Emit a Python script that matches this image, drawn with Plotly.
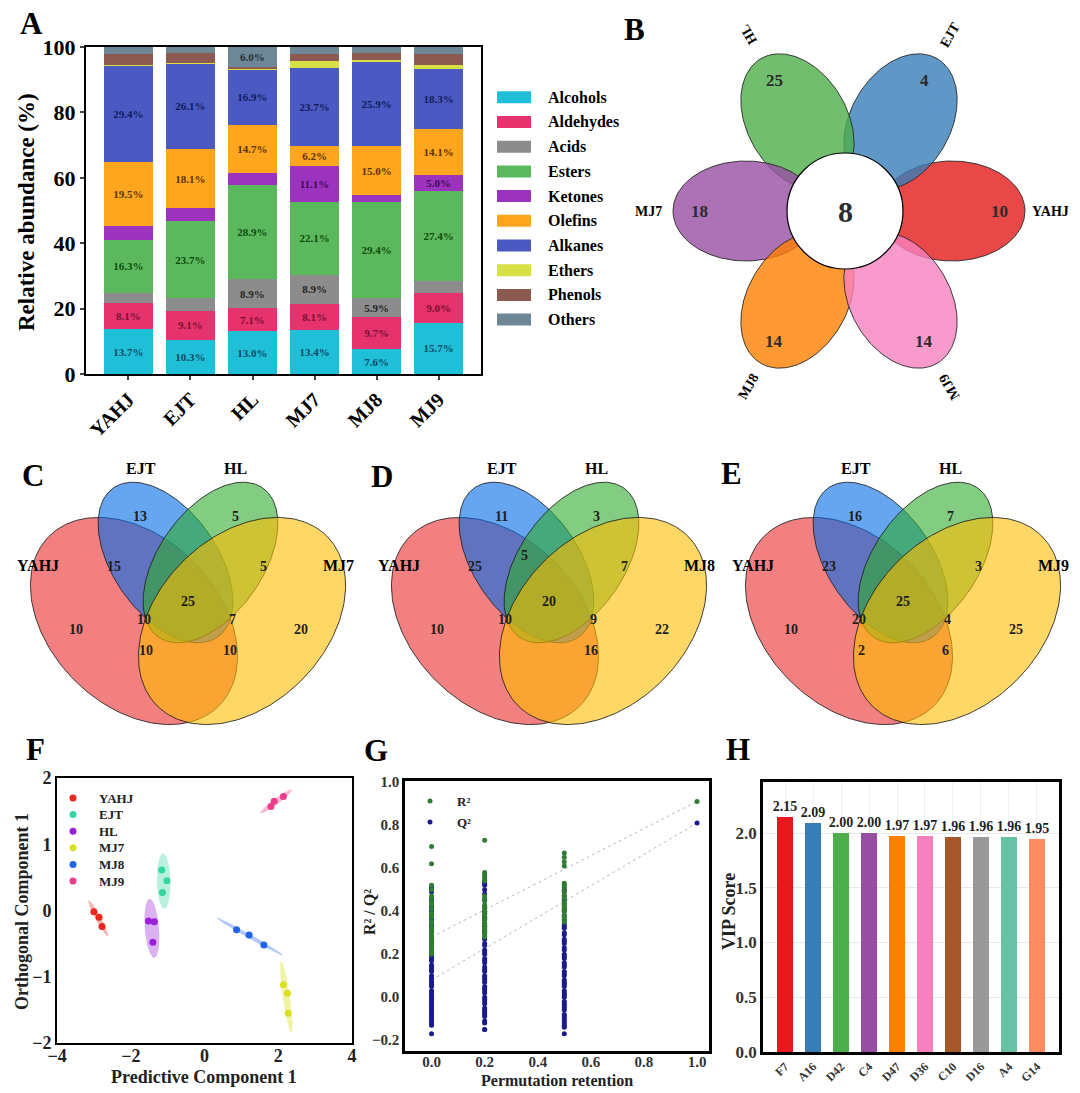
import numpy as np
import plotly.graph_objects as go

W, H = 1080, 1093
FONT = "Liberation Serif"

# ---------------- DATA ----------------
# Panel A: relative abundance (%)
samples = ["YAHJ", "EJT", "HL", "MJ7", "MJ8", "MJ9"]
classes = ["Alcohols", "Aldehydes", "Acids", "Esters", "Ketones",
           "Olefins", "Alkanes", "Ethers", "Phenols", "Others"]
alcohols = [13.7, 10.3, 13.0, 13.4, 7.6, 15.7]
aldehydes = [8.1, 9.1, 7.1, 8.1, 9.7, 9.0]
acids = [3.0, 3.7, 8.9, 8.9, 5.9, 3.8]
esters = [16.3, 23.7, 28.9, 22.1, 29.4, 27.4]
ketones = [4.3, 3.9, 3.7, 11.1, 2.0, 5.0]
olefins = [19.5, 18.1, 14.7, 6.2, 15.0, 14.1]
alkanes = [29.4, 26.1, 16.9, 23.7, 25.9, 18.3]
ethers = [0.3, 0.3, 0.3, 2.2, 0.5, 1.3]
phenols = [3.2, 3.0, 0.5, 2.3, 2.2, 3.2]
others = [2.2, 1.8, 6.0, 2.0, 1.8, 2.2]

# Panel B: flower diagram
flower_sets = ["YAHJ", "EJT", "HL", "MJ7", "MJ8", "MJ9"]
flower_unique = [10, 4, 25, 18, 14, 14]
flower_core = 8

# Panels C-E: 4-set Venn region counts
venn_sets_C = ["YAHJ", "EJT", "HL", "MJ7"]
venn_sets_D = ["YAHJ", "EJT", "HL", "MJ8"]
venn_sets_E = ["YAHJ", "EJT", "HL", "MJ9"]
venn_C = [13, 5, 15, 5, 25, 10, 7, 10, 20, 10, 10, None]
venn_D = [11, 3, 25, 7, 20, 10, 9, 10, 22, None, 16, 5]
venn_E = [16, 7, 23, 3, 25, 20, 4, 10, 25, 2, 6, None]

# Panel F: OPLS-DA scores
pca_groups = ["YAHJ", "EJT", "HL", "MJ7", "MJ8", "MJ9"]
pc1_yahj = [-3.00, -2.86, -2.78]; oc1_yahj = [-0.02, -0.10, -0.24]
pc1_ejt = [-1.16, -1.02, -1.14];  oc1_ejt = [0.61, 0.45, 0.27]
pc1_hl = [-1.52, -1.36, -1.40];   oc1_hl = [-0.16, -0.17, -0.48]
pc1_mj7 = [2.14, 2.25, 2.27];     oc1_mj7 = [-1.12, -1.25, -1.55]
pc1_mj8 = [0.87, 1.21, 1.61];     oc1_mj8 = [-0.29, -0.37, -0.52]
pc1_mj9 = [1.80, 1.89, 2.14];     oc1_mj9 = [1.57, 1.65, 1.72]

# Panel G: permutation test
r2_at_0 = [0.70, 0.62, 0.52, 0.50, 0.47, 0.46, 0.44, 0.43, 0.41, 0.39, 0.38, 0.37, 0.35,
           0.34, 0.32, 0.31, 0.30, 0.29, 0.28, 0.27, 0.26, 0.25, 0.24, 0.23, 0.22, 0.21, 0.20]
q2_at_0 = [0.51, 0.50, 0.49, 0.45, 0.42, 0.41, 0.40, 0.38, 0.36, 0.34, 0.33, 0.31, 0.29,
           0.27, 0.26, 0.25, 0.24, 0.22, 0.21, 0.19, 0.18, 0.17, 0.15, 0.14, 0.13, 0.12,
           0.10, 0.09, 0.08, 0.07, 0.06, 0.05, 0.03, 0.02, 0.01, 0.00, -0.01, -0.02, -0.03,
           -0.04, -0.05, -0.06, -0.07, -0.08, -0.09, -0.10, -0.11, -0.12, -0.13, -0.17]
r2_at_02 = [0.73, 0.58, 0.57, 0.56, 0.55, 0.54, 0.47, 0.46, 0.45, 0.43, 0.42, 0.41, 0.40,
            0.39, 0.38, 0.37, 0.36, 0.35, 0.34, 0.33, 0.32, 0.31, 0.30, 0.29, 0.28]
q2_at_02 = [0.54, 0.53, 0.52, 0.50, 0.48, 0.45, 0.42, 0.40, 0.39, 0.37, 0.36, 0.34, 0.33,
            0.31, 0.30, 0.28, 0.27, 0.25, 0.24, 0.22, 0.21, 0.20, 0.18, 0.17, 0.16, 0.14,
            0.13, 0.12, 0.10, 0.09, 0.08, 0.07, 0.05, 0.04, 0.03, 0.02, 0.00, -0.01, -0.02,
            -0.03, -0.05, -0.06, -0.07, -0.08, -0.09, -0.11, -0.12, -0.15, -0.15]
r2_at_05 = [0.67, 0.65, 0.63, 0.61, 0.53, 0.52, 0.51, 0.49, 0.47, 0.46, 0.44, 0.43, 0.42,
            0.41, 0.40, 0.38, 0.37, 0.36, 0.35]
q2_at_05 = [0.50, 0.49, 0.47, 0.45, 0.43, 0.41, 0.40, 0.38, 0.36, 0.34, 0.33, 0.32, 0.30,
            0.29, 0.27, 0.26, 0.25, 0.23, 0.22, 0.20, 0.19, 0.18, 0.16, 0.15, 0.14, 0.12,
            0.11, 0.10, 0.08, 0.07, 0.06, 0.05, 0.03, 0.02, 0.01, 0.00, -0.02, -0.03, -0.04,
            -0.05, -0.06, -0.08, -0.09, -0.10, -0.11, -0.12, -0.13, -0.14, -0.17]
r2_at_1 = [0.91]
q2_at_1 = [0.81]
fit_x = [0.0, 1.0]
r2_fit = [0.28, 0.91]
q2_fit = [0.08, 0.81]

# Panel H: VIP scores
vip_features = ["F7", "A16", "D42", "C4", "D47", "D36", "C10", "D16", "A4", "G14"]
vip_scores = [2.15, 2.09, 2.00, 2.00, 1.97, 1.97, 1.96, 1.96, 1.96, 1.95]

# ---------------- STYLES ----------------
A_COLORS = ["#1fbfd8", "#e6336e", "#8c8c8c", "#5cb85c", "#9c33be",
            "#ffa51e", "#4b5ac3", "#d7e146", "#8c5a50", "#6e8796"]
A_TEXT = ["#0b4a66", "#7a0f2e", "#222222", "#0d4d0d", "#3d0f52",
          "#5a3300", "#101a5a", "#333333", "#333333", "#1f2f3a"]
FLOWER_COLORS = ["rgba(228,26,28,0.8)", "rgba(55,126,184,0.8)", "rgba(77,175,74,0.8)",
                 "rgba(152,78,163,0.8)", "rgba(255,127,0,0.8)", "rgba(247,129,191,0.8)"]
VENN_COLORS = ["rgba(233,43,43,0.6)", "rgba(0,106,231,0.6)",
               "rgba(47,172,47,0.6)", "rgba(255,188,0,0.6)"]
F_COLORS = ["#e8281e", "#33d69f", "#9b1fd6", "#d9e021", "#1f63e6", "#ec3c8c"]
F_FILL = ["rgba(232,40,30,0.35)", "rgba(51,214,159,0.35)", "rgba(155,31,214,0.35)",
          "rgba(217,224,33,0.4)", "rgba(31,99,230,0.35)", "rgba(236,60,140,0.35)"]
H_COLORS = ["#e41a1c", "#377eb8", "#4daf4a", "#984ea3", "#ff7f00",
            "#f781bf", "#a65628", "#999999", "#66c2a5", "#fc8d62"]
R2_COLOR = "#2f7d32"
Q2_COLOR = "#1a1a8c"


def bfont(size, color="black"):
    return dict(family=FONT, size=size, color=color, weight="bold")


def dom_x(p0, p1):
    return [p0 / W, p1 / W]


def dom_y(top, bottom):
    return [1 - bottom / H, 1 - top / H]


annotations = []
shapes = []


def txt(x, y, s, size, color="black", angle=0, xanchor="center", yanchor="middle"):
    annotations.append(dict(x=x, y=y, xref="x", yref="y", text=s, showarrow=False,
                            font=bfont(size, color), textangle=angle,
                            xanchor=xanchor, yanchor=yanchor))


def ellipse_pts(cx, cy, a, b, ang_deg, n=240):
    t = np.linspace(0, 2 * np.pi, n)
    ph = np.deg2rad(ang_deg)
    x = cx + a * np.cos(t) * np.cos(ph) - b * np.sin(t) * np.sin(ph)
    y = cy + a * np.cos(t) * np.sin(ph) + b * np.sin(t) * np.cos(ph)
    return x, y


def conf_ellipse(xs, ys, k=2.45, n=120):
    xs, ys = np.asarray(xs, float), np.asarray(ys, float)
    cov = np.cov(xs, ys)
    vals, vecs = np.linalg.eigh(cov)
    vals = np.clip(vals, 1e-5, None)
    t = np.linspace(0, 2 * np.pi, n)
    circ = np.stack([np.cos(t), np.sin(t)])
    pts = vecs @ (np.sqrt(vals)[:, None] * k * circ)
    return xs.mean() + pts[0], ys.mean() + pts[1]


fig = go.Figure()

# ---------------- Panel B: flower ----------------
fcx, fcy = 849, 211
pet_d, pet_a, pet_b = 103, 73, 50
for i, (name, cnt) in enumerate(zip(flower_sets, flower_unique)):
    th = np.deg2rad(60 * i)
    cx = fcx + pet_d * np.cos(th)
    cy = fcy - pet_d * np.sin(th)
    ex, ey = ellipse_pts(cx, cy, pet_a, pet_b, -60 * i)
    fig.add_trace(go.Scatter(x=ex, y=ey, mode="lines", fill="toself",
                             fillcolor=FLOWER_COLORS[i],
                             line=dict(color="rgba(40,40,40,0.9)", width=1),
                             hoverinfo="skip", showlegend=False, xaxis="x", yaxis="y"))
for i, (name, cnt) in enumerate(zip(flower_sets, flower_unique)):
    th = np.deg2rad(60 * i)
    txt(fcx + 150 * np.cos(th), fcy - 151 * np.sin(th), str(cnt), 17, "#2b2b2b")
    ang = (60 * i) % 180
    txt(fcx + 201 * np.cos(th), fcy - 203 * np.sin(th), name, 14, "black", angle=-ang)
shapes.append(dict(type="circle", xref="x", yref="y", x0=845 - 58, x1=845 + 58,
                   y0=fcy - 58, y1=fcy + 58, fillcolor="white",
                   line=dict(color="black", width=1.2), layer="above"))
txt(845, fcy, str(flower_core), 30, "#2b2b2b")

# ---------------- Panels C-E: Venn ----------------
venn_geom = [(-54, 621, 120, 84, 45), (-22.5, 562.5, 91, 52, 55),
             (22.5, 562.5, 91, 52, -55), (54, 621, 120, 84, -45)]
region_dx = [-48, 47, -74, 75, 0, -44, 44, -112, 113, -42, 42, -25]
region_y = [516, 516, 566, 566, 601, 619, 619, 629, 629, 650, 650, 555]
name_pos = [(-150, 565), (-47, 468), (47, 468), (150, 565)]
for axc, sets, counts in [(188, venn_sets_C, venn_C), (549, venn_sets_D, venn_D),
                          (903, venn_sets_E, venn_E)]:
    for (dx, cy, a, b, ph), col in zip(venn_geom, VENN_COLORS):
        ex, ey = ellipse_pts(axc + dx, cy, a, b, ph)
        fig.add_trace(go.Scatter(x=ex, y=ey, mode="lines", fill="toself", fillcolor=col,
                                 line=dict(color="rgba(30,30,30,0.85)", width=1),
                                 hoverinfo="skip", showlegend=False, xaxis="x", yaxis="y"))
    for v, dx, yy in zip(counts, region_dx, region_y):
        if v is not None:
            txt(axc + dx, yy, str(v), 14, "#1e1e1e")
    for s, (dx, yy) in zip(sets, name_pos):
        txt(axc + dx, yy, s, 16, "black")

# ---------------- Panel A: stacked bars ----------------
series = [alcohols, aldehydes, acids, esters, ketones, olefins, alkanes, ethers, phenols, others]
for name, vals, col, tcol in zip(classes, series, A_COLORS, A_TEXT):
    fig.add_trace(go.Bar(x=samples, y=vals, name=name, width=0.79,
                         marker=dict(color=col, line=dict(width=0)),
                         text=[f"{v:.1f}%" if v >= 5 else "" for v in vals],
                         textposition="inside", insidetextanchor="middle", textangle=0,
                         constraintext="none",
                         textfont=bfont(11, tcol), hoverinfo="skip",
                         showlegend=False, xaxis="x2", yaxis="y2"))
# legend for A
for i, (name, col) in enumerate(zip(classes, A_COLORS)):
    yc = 97.3 + i * 24.7
    shapes.append(dict(type="rect", xref="x", yref="y", x0=497, x1=531,
                       y0=yc - 6, y1=yc + 6, fillcolor=col, line=dict(width=0)))
    txt(546, yc, name, 16, "black", xanchor="left")

# ---------------- Panel F: scores ----------------
f_xs = [pc1_yahj, pc1_ejt, pc1_hl, pc1_mj7, pc1_mj8, pc1_mj9]
f_ys = [oc1_yahj, oc1_ejt, oc1_hl, oc1_mj7, oc1_mj8, oc1_mj9]
for xs, ys, fc in zip(f_xs, f_ys, F_FILL):
    ex, ey = conf_ellipse(xs, ys)
    fig.add_trace(go.Scatter(x=ex, y=ey, mode="lines", fill="toself", fillcolor=fc,
                             line=dict(width=0), hoverinfo="skip", showlegend=False,
                             xaxis="x3", yaxis="y3"))
for g, xs, ys, c in zip(pca_groups, f_xs, f_ys, F_COLORS):
    fig.add_trace(go.Scatter(x=xs, y=ys, mode="markers", name=g,
                             marker=dict(color=c, size=7), showlegend=False,
                             xaxis="x3", yaxis="y3"))
leg_y = [798 + i * 16.6 for i in range(len(pca_groups))]
fig.add_trace(go.Scatter(x=[73] * len(pca_groups), y=leg_y, mode="markers",
                         marker=dict(color=F_COLORS, size=7), hoverinfo="skip",
                         showlegend=False, xaxis="x", yaxis="y"))
for g, yy in zip(pca_groups, leg_y):
    txt(97, yy, g, 13, "#222222", xanchor="left")

# ---------------- Panel G: permutation ----------------
fig.add_trace(go.Scatter(x=fit_x, y=r2_fit, mode="lines",
                         line=dict(color="#bdbdbd", width=1, dash="dot"),
                         hoverinfo="skip", showlegend=False, xaxis="x4", yaxis="y4"))
fig.add_trace(go.Scatter(x=fit_x, y=q2_fit, mode="lines",
                         line=dict(color="#bdbdbd", width=1, dash="dot"),
                         hoverinfo="skip", showlegend=False, xaxis="x4", yaxis="y4"))
r2_cols = [(0.0, r2_at_0), (0.2, r2_at_02), (0.5, r2_at_05), (1.0, r2_at_1)]
q2_cols = [(0.0, q2_at_0), (0.2, q2_at_02), (0.5, q2_at_05), (1.0, q2_at_1)]
rx = [x for x, vs in r2_cols for _ in vs]
ry = [v for _, vs in r2_cols for v in vs]
qx = [x for x, vs in q2_cols for _ in vs]
qy = [v for _, vs in q2_cols for v in vs]
fig.add_trace(go.Scatter(x=qx, y=qy, mode="markers", name="Q²",
                         marker=dict(color=Q2_COLOR, size=5), showlegend=False,
                         xaxis="x4", yaxis="y4"))
fig.add_trace(go.Scatter(x=rx, y=ry, mode="markers", name="R²",
                         marker=dict(color=R2_COLOR, size=5), showlegend=False,
                         xaxis="x4", yaxis="y4"))
fig.add_trace(go.Scatter(x=[430, 430], y=[801, 822], mode="markers",
                         marker=dict(color=[R2_COLOR, Q2_COLOR], size=5),
                         hoverinfo="skip", showlegend=False, xaxis="x", yaxis="y"))
txt(455, 801, "R²", 13, "#222222", xanchor="left")
txt(455, 822, "Q²", 13, "#222222", xanchor="left")

# ---------------- Panel H: VIP ----------------
fig.add_trace(go.Bar(x=vip_features, y=vip_scores, width=0.57,
                     marker=dict(color=H_COLORS, line=dict(width=0)),
                     texttemplate="%{y:.2f}", textposition="outside",
                     constraintext="none",
                     textfont=bfont(14, "#222222"), cliponaxis=False,
                     showlegend=False, xaxis="x5", yaxis="y5"))

# ---------------- Text: panel letters and axis titles ----------------
for s, x, y in [("A", 31, 23), ("B", 634, 29), ("C", 33, 475), ("D", 382, 476),
                ("E", 731, 473), ("F", 35, 749), ("G", 376, 750), ("H", 738, 749)]:
    txt(x, y, s, 31, "black")
txt(26, 212, "Relative abundance (%)", 23, "black", angle=-90)
txt(22, 912, "Orthogonal Component 1", 18, "#222222", angle=-90)
txt(204, 1077, "Predictive Component 1", 18, "#222222")
txt(369, 912, "R² / Q²", 16, "#222222", angle=-90)
txt(557, 1080, "Permutation retention", 16, "#222222")
txt(729, 912, "VIP Score", 18, "#222222", angle=-90)

axis_box = dict(showline=True, linecolor="black", mirror=True, zeroline=False,
                showgrid=False, automargin=False)

fig.update_layout(
    width=W, height=H, margin=dict(l=0, r=0, t=0, b=0, pad=0), autosize=False,
    paper_bgcolor="white", plot_bgcolor="rgba(0,0,0,0)",
    barmode="stack", showlegend=False,
    font=dict(family=FONT, color="black"),
    xaxis=dict(domain=[0, 1], range=[0, W], visible=False, fixedrange=True, automargin=False),
    yaxis=dict(domain=[0, 1], range=[H, 0], visible=False, fixedrange=True, automargin=False),
    xaxis2=dict(domain=dom_x(86, 481), range=[-0.685, 5.685], anchor="y2",
                linewidth=2, ticks="outside", ticklen=4, tickwidth=1.5,
                tickfont=bfont(20), tickangle=-45, **axis_box),
    yaxis2=dict(domain=dom_y(47, 374), range=[0, 100], dtick=20, anchor="x2",
                linewidth=2, ticks="outside", ticklen=4, tickwidth=1.5,
                tickfont=bfont(22), **axis_box),
    xaxis3=dict(domain=dom_x(57, 352), range=[-4, 4], dtick=2, anchor="y3",
                linewidth=2, tickfont=bfont(18, "#222222"), ticklabelstandoff=-5, **axis_box),
    yaxis3=dict(domain=dom_y(778, 1043), range=[-2, 2], dtick=1, anchor="x3",
                linewidth=2, tickfont=bfont(18, "#222222"), **axis_box),
    xaxis4=dict(domain=dom_x(405, 709), range=[-0.1, 1.045], dtick=0.2, tickformat=".1f",
                anchor="y4", linewidth=2.5, tickfont=bfont(15, "#333333"),
                ticklabelstandoff=-5, **axis_box),
    yaxis4=dict(domain=dom_y(781, 1051), range=[-0.25, 1.005], dtick=0.2, tickformat=".1f",
                anchor="x4", linewidth=2.5, tickfont=bfont(15, "#333333"), **axis_box),
    xaxis5=dict(domain=dom_x(763, 1059), range=[-0.79, 9.79], anchor="y5",
                linewidth=2.5, tickfont=bfont(12, "#333333"), tickangle=-45,
                showline=True, linecolor="black", mirror=True, zeroline=False,
                showgrid=True, gridcolor="#efefef", automargin=False),
    yaxis5=dict(domain=dom_y(782, 1052), range=[0, 2.466], dtick=0.5, tickformat=".1f",
                anchor="x5", linewidth=2.5, tickfont=bfont(17, "#333333"),
                showline=True, linecolor="black", mirror=True, zeroline=False,
                showgrid=True, gridcolor="#e8e8e8", automargin=False),
    annotations=annotations, shapes=shapes,
)

fig.write_html("out.html", config={"displayModeBar": False},
               post_script="document.body.style.margin='0px';")
